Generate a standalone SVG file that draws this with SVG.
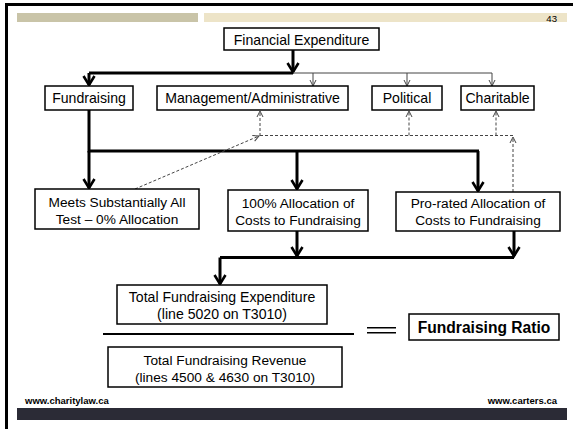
<svg xmlns="http://www.w3.org/2000/svg" width="573" height="429" viewBox="0 0 573 429">
<style>
.box{fill:#fff;stroke:#000;stroke-width:1.5}
.t{font-family:"Liberation Sans",Arial,sans-serif;font-size:14.1px;fill:#000;text-anchor:middle}
.s{font-size:13.7px}
.b{font-weight:bold;font-size:15.6px}
.thick{fill:none;stroke:#000;stroke-width:3}
.thin{fill:none;stroke:#444;stroke-width:1}
.dash{fill:none;stroke:#444;stroke-width:1;stroke-dasharray:3,2}
.foot{font-family:"Liberation Sans",Arial,sans-serif;font-size:9.5px;font-weight:bold;fill:#000}
</style>
<defs>
<marker id="ak" markerUnits="userSpaceOnUse" markerWidth="14" markerHeight="14" viewBox="0 0 14 14" refX="12" refY="7" orient="auto">
<path d="M3,1.5 L12,7 L3,12.5" fill="none" stroke="#000" stroke-width="2.6"/>
</marker>
<marker id="an" markerUnits="userSpaceOnUse" markerWidth="8" markerHeight="8" viewBox="0 0 8 8" refX="7" refY="4" orient="auto">
<path d="M1,1 L7,4 L1,7" fill="none" stroke="#444" stroke-width="1"/>
</marker>
</defs>
<rect x="0" y="0" width="573" height="429" fill="#fff"/>
<rect x="6.5" y="4.5" width="700" height="600" fill="none" stroke="#000" stroke-width="3"/>
<rect x="17" y="13" width="181" height="9" fill="#c9c4a8"/>
<rect x="204" y="13" width="363" height="9" fill="#ede4c8"/>
<text x="557" y="21.5" font-family="Liberation Sans,Arial,sans-serif" font-size="9.6" text-anchor="end">43</text>
<rect x="17" y="408" width="550" height="12" fill="#2b2b36"/>
<text class="foot" x="25" y="404">www.charitylaw.ca</text>
<text class="foot" x="557" y="404" text-anchor="end">www.carters.ca</text>

<g id="connectors">
<path class="thick" d="M293,50 V72" marker-end="url(#ak)"/>
<path class="thick" d="M89,73 H293"/>
<path class="thick" d="M89,73 V85" marker-end="url(#ak)"/>
<path class="thin" d="M293,73 H492"/>
<path class="thin" d="M313,73 V86" marker-end="url(#an)"/>
<path class="thin" d="M407,73 V86" marker-end="url(#an)"/>
<path class="thin" d="M492,73 V86" marker-end="url(#an)"/>
<path class="thick" d="M89,110 V151 H479"/>
<path class="thick" d="M89,151 V188" marker-end="url(#ak)"/>
<path class="thick" d="M297,151 V189" marker-end="url(#ak)"/>
<path class="thick" d="M478,151 V191" marker-end="url(#ak)"/>
<path class="dash" d="M135,189 L259,136" marker-end="url(#an)"/>
<path class="dash" d="M260,136 V111" marker-end="url(#an)"/>
<path class="dash" d="M260,135.5 H513"/>
<path class="dash" d="M409,135.5 V111" marker-end="url(#an)"/>
<path class="dash" d="M496,135.5 V111" marker-end="url(#an)"/>
<path class="dash" d="M513,192 V137" marker-end="url(#an)"/>
<path class="thick" d="M297,231 V256" marker-end="url(#ak)"/>
<path class="thick" d="M514,231 V256" marker-end="url(#ak)"/>
<path class="thick" d="M220,257.5 H514"/>
<path class="thick" d="M220,257.5 V284" marker-end="url(#ak)"/>
</g>

<g id="financial-expenditure">
<rect class="box" x="224" y="28" width="155" height="22"/>
<text class="t" x="301.5" y="44.5">Financial Expenditure</text>
</g>
<g id="fundraising">
<rect class="box" x="45" y="86" width="88" height="24"/>
<text class="t" x="89" y="103">Fundraising</text>
</g>
<g id="management">
<rect class="box" x="157" y="86" width="191" height="24"/>
<text class="t" x="252.5" y="103">Management/Administrative</text>
</g>
<g id="political">
<rect class="box" x="372" y="86" width="70" height="24"/>
<text class="t" x="407" y="103">Political</text>
</g>
<g id="charitable">
<rect class="box" x="461" y="86" width="73" height="24"/>
<text class="t" x="497.5" y="103">Charitable</text>
</g>
<g id="meets-test">
<rect class="box" x="35" y="189" width="164" height="40"/>
<text class="t s" x="117" y="207">Meets Substantially All</text>
<text class="t s" x="117" y="223.5">Test – 0% Allocation</text>
</g>
<g id="full-allocation">
<rect class="box" x="228" y="190" width="140" height="41"/>
<text class="t s" x="298" y="207.5">100% Allocation of</text>
<text class="t s" x="298" y="224.5">Costs to Fundraising</text>
</g>
<g id="prorated-allocation">
<rect class="box" x="396" y="192" width="164" height="39"/>
<text class="t s" x="478" y="208">Pro-rated Allocation of</text>
<text class="t s" x="478" y="225">Costs to Fundraising</text>
</g>
<g id="total-expenditure">
<rect class="box" x="117" y="285" width="210" height="39"/>
<text class="t" x="222" y="302">Total Fundraising Expenditure</text>
<text class="t" x="222" y="318.5">(line 5020 on T3010)</text>
</g>
<rect x="103" y="333" width="251" height="2" fill="#000"/>
<g id="total-revenue">
<rect class="box" x="108" y="347" width="234" height="40"/>
<text class="t s" x="225" y="365">Total Fundraising Revenue</text>
<text class="t s" x="225" y="382">(lines 4500 &amp; 4630 on T3010)</text>
</g>
<rect x="367" y="327" width="29" height="1.5" fill="#000"/>
<rect x="367" y="332" width="29" height="1.5" fill="#000"/>
<g id="fundraising-ratio">
<rect class="box" x="409" y="314" width="150" height="26"/>
<text class="t b" x="484" y="332.5">Fundraising Ratio</text>
</g>
</svg>
